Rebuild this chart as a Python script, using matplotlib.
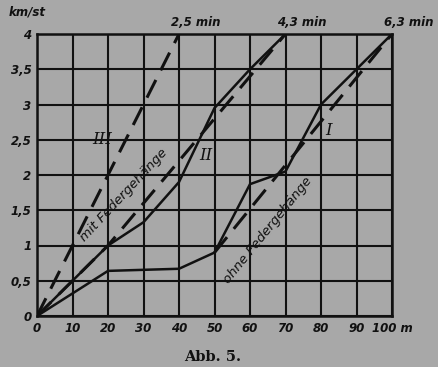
import matplotlib
matplotlib.use("Agg")
import matplotlib.pyplot as plt

# ---- data ----
x_ticks = [0, 10, 20, 30, 40, 50, 60, 70, 80, 90, 100]
x_tick_labels = ["0", "10", "20", "30", "40", "50", "60", "70", "80", "90", "100 m"]
y_ticks = [0, 0.5, 1, 1.5, 2, 2.5, 3, 3.5, 4]
y_tick_labels = ["0", "0,5", "1", "1,5", "2", "2,5", "3", "3,5", "4"]

# solid curve II (mit Federgehänge)
ii_x = [0, 20, 30, 40, 50, 60, 70]
ii_y = [0, 1.0, 1.33, 1.9, 2.95, 3.5, 4.0]
# solid curve I (ohne Federgehänge)
i_x = [0, 20, 40, 50, 60, 70, 80, 90, 100]
i_y = [0, 0.64, 0.67, 0.9, 1.87, 2.05, 3.0, 3.5, 4.0]
# dashed line III
iii_x = [0, 40]
iii_y = [0, 4.0]
# dashed mean line mit Federgehänge
mit_x = [0, 20, 70]
mit_y = [0, 1.0, 4.0]
# dashed mean line ohne Federgehänge
ohne_x = [50, 100]
ohne_y = [0.9, 4.0]

top_labels = ["2,5 min", "4,3 min", "6,3 min"]
top_label_x = [40, 70, 100]

BG = "#a8a8a8"
INK = "#111111"

fig = plt.figure(figsize=(4.38, 3.67), dpi=100, facecolor=BG)
ax = fig.add_axes([37/438, 1-316/367, (392-37)/438, (316-34)/367])
ax.set_facecolor(BG)

ax.set_xlim(0, 100)
ax.set_ylim(0, 4)
ax.set_xticks(x_ticks)
ax.set_yticks(y_ticks)
ax.grid(True, color=INK, linewidth=1.5)
for s in ax.spines.values():
    s.set_color(INK)
    s.set_linewidth(1.8)
ax.tick_params(length=0, pad=4)
fs = dict(fontsize=8.5, fontstyle="italic", fontweight="bold", color=INK)
ax.set_xticklabels(x_tick_labels, **fs)
ax.set_yticklabels(y_tick_labels, **fs)
ax.set_axisbelow(True)

ax.plot(ii_x, ii_y, color=INK, lw=1.8, solid_joinstyle="miter")
ax.plot(i_x, i_y, color=INK, lw=1.8, solid_joinstyle="miter")
dash = dict(color=INK, lw=2.2, dashes=(6.5, 3.5))
ax.plot(iii_x, iii_y, **dash)
ax.plot(mit_x, mit_y, **dash)
ax.plot(ohne_x, ohne_y, **dash)

for lab, xv in zip(top_labels, top_label_x):
    ax.text(xv - 2.3, 4.17, lab, ha="left", va="center", clip_on=False, **fs)

ax.text(-2.8, 4.31, "km/st", ha="center", va="center", clip_on=False, **fs)

rom = dict(fontsize=12, fontstyle="italic", fontfamily="DejaVu Serif", color=INK)
ax.text(18.5, 2.5, "III", ha="center", va="center", **rom)
ax.text(47.5, 2.28, "II", ha="center", va="center", **rom)
ax.text(82, 2.63, "I", ha="center", va="center", **rom)

lab = dict(fontsize=9.5, fontstyle="italic", color=INK)
ax.text(24.5, 1.72, "mit Federgehänge", rotation=47, ha="center", va="center",
        rotation_mode="anchor", **lab)
ax.text(65, 1.22, "ohne Federgehänge", rotation=51, ha="center", va="center",
        rotation_mode="anchor", **lab)

fig.text(213/438, 1-357/367, "Abb. 5.", ha="center", va="center",
         fontsize=10.5, fontweight="bold", fontfamily="DejaVu Serif", color=INK)

fig.savefig("out.png", dpi=100, facecolor=BG)
